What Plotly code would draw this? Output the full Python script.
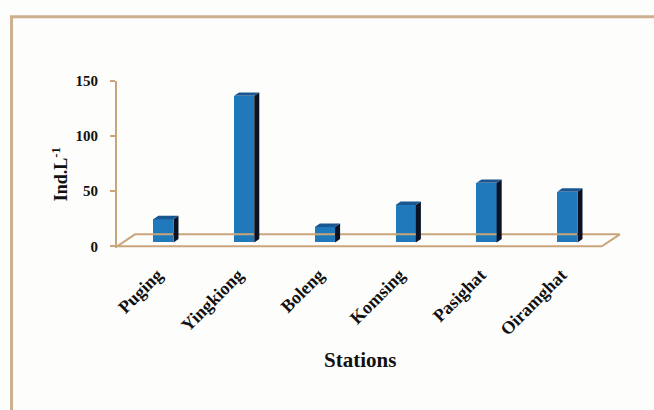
import plotly.graph_objects as go

# Zooplankton density per station
stations = ["Puging", "Yingkiong", "Boleng", "Komsing", "Pasighat", "Oiramghat"]
density = [21, 133, 14, 34, 54, 46]
y_ticks = [0, 50, 100, 150]

# pseudo-3D geometry (data units)
DEPTH_X = 0.223      # floor depth, horizontal shift
DEPTH_Y = 10.9       # floor depth, vertical shift
BAR_FRONT = 0.33     # front face of the bars, as a fraction of floor depth
BAR_BACK = 0.61      # back face of the bars
BAR_W = 0.25

TAN = "#c9a57c"
FRONT = "#1f79ba"
SIDE = "#0a1224"
TOP = "#1a5690"
FONT = "Liberation Serif"

n = len(stations)
xs = list(range(n))
off_x = BAR_FRONT * DEPTH_X
base = BAR_FRONT * DEPTH_Y
ddx = (BAR_BACK - BAR_FRONT) * DEPTH_X
ddy = (BAR_BACK - BAR_FRONT) * DEPTH_Y

fig = go.Figure()

# floor of the chart
x_lo, x_hi = -0.5, n - 0.5
fig.add_trace(go.Scatter(
    x=[x_lo, x_lo + DEPTH_X, x_hi + DEPTH_X, x_hi, x_lo],
    y=[0, DEPTH_Y, DEPTH_Y, 0, 0],
    mode="lines", line=dict(color=TAN, width=2),
    fill="toself", fillcolor="rgba(255,255,255,0)",
    hoverinfo="skip", showlegend=False,
))

# front faces of the bars
centers = [x + off_x for x in xs]
fig.add_trace(go.Bar(
    x=centers, y=density, base=[base] * n, width=BAR_W,
    marker=dict(color=FRONT, line=dict(width=0)),
    showlegend=False,
))

# side and top faces
sx, sy, tx, ty = [], [], [], []
for c, v in zip(centers, density):
    xl, xr = c - BAR_W / 2, c + BAR_W / 2
    top = base + v
    sx += [xr, xr + ddx, xr + ddx, xr, xr, None]
    sy += [base, base + ddy, top + ddy, top, base, None]
    tx += [xl, xl + ddx, xr + ddx, xr, xl, None]
    ty += [top, top + ddy, top + ddy, top, top, None]

fig.add_trace(go.Scatter(x=sx, y=sy, mode="lines", line=dict(width=0, color=SIDE),
                         fill="toself", fillcolor=SIDE, hoverinfo="skip", showlegend=False))
fig.add_trace(go.Scatter(x=tx, y=ty, mode="lines", line=dict(width=0, color=TOP),
                         fill="toself", fillcolor=TOP, hoverinfo="skip", showlegend=False))

# plot area: 81..247.65 px vertically, 117..622 px horizontally
W, H = 654, 410
left, top_m = 117, 81
px_x = 485 / 6
px_y = 1.1
x_range = [-0.5, 5.75]
y_range = [-1.5, 150]
plot_w = (x_range[1] - x_range[0]) * px_x
plot_h = (y_range[1] - y_range[0]) * px_y

fig.update_layout(
    width=W, height=H,
    margin=dict(l=left, r=W - left - plot_w, t=top_m, b=H - top_m - plot_h, autoexpand=False),
    paper_bgcolor="#fdfdfc", plot_bgcolor="rgba(0,0,0,0)",
    bargap=0,
    font=dict(family=FONT, color="#111111"),
    xaxis=dict(
        range=x_range, tickvals=xs, ticktext=stations, tickangle=-45,
        showgrid=False, zeroline=False, showline=False, ticks="",
        tickfont=dict(family=FONT, size=18, weight="bold"),
        ticklabelstandoff=12,
    ),
    yaxis=dict(
        range=y_range, tickvals=y_ticks, showgrid=False, zeroline=False,
        showline=True, linecolor=TAN, linewidth=2,
        ticks="outside", ticklen=5, tickcolor=TAN, tickwidth=2,
        tickfont=dict(family=FONT, size=15, weight="bold"),
        ticklabelstandoff=9,
    ),
    shapes=[dict(
        type="rect", xref="paper", yref="paper",
        x0=(11.5 - left) / plot_w, x1=1.3,
        y0=-1.5, y1=(top_m + plot_h - 17) / plot_h,
        line=dict(color="#cdb08e", width=3), fillcolor="rgba(0,0,0,0)", layer="below",
    )],
    annotations=[
        dict(text="<b>Ind.L<sup>-1</sup></b>", textangle=-90, showarrow=False,
             xref="paper", yref="paper",
             x=(60 - left) / plot_w, y=(top_m + plot_h - 174) / plot_h,
             xanchor="center", yanchor="middle",
             font=dict(family=FONT, size=18, color="#111111")),
        dict(text="<b>Stations</b>", showarrow=False,
             xref="paper", yref="paper",
             x=(360 - left) / plot_w, y=(top_m + plot_h - 359) / plot_h,
             xanchor="center", yanchor="middle",
             font=dict(family=FONT, size=21, color="#111111")),
    ],
)

fig.write_html("out.html")
